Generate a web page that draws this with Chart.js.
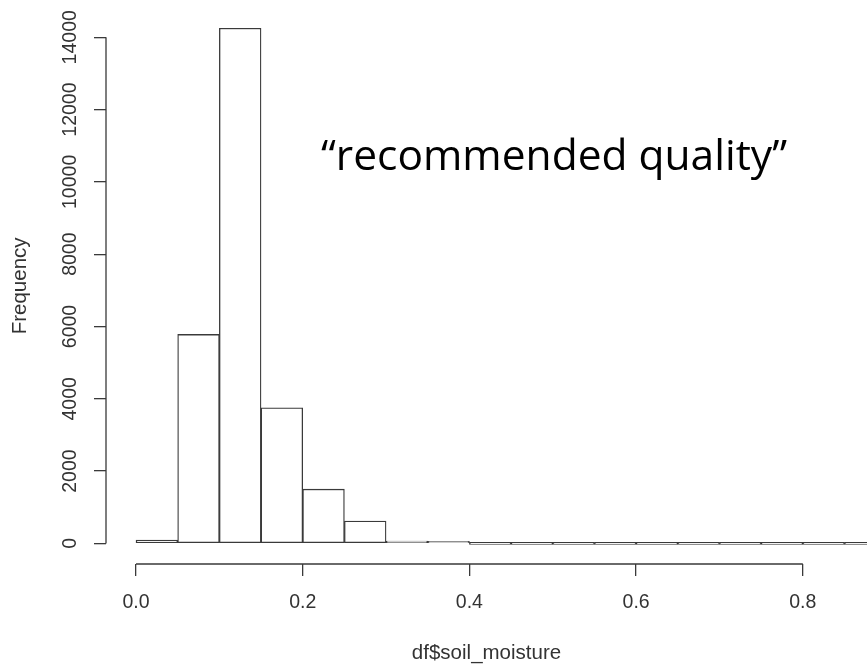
<!DOCTYPE html>
<html>
<head>
<meta charset="utf-8">
<script src="https://cdn.jsdelivr.net/npm/chart.js@4/dist/chart.umd.min.js"></script>
<style>
  html, body { margin: 0; padding: 0; background: #fff; overflow: hidden; }
</style>
</head>
<body>
<canvas id="histChart" width="867" height="664"></canvas>
<script>
const binStarts = [0.00, 0.05, 0.10, 0.15, 0.20, 0.25, 0.30, 0.35, 0.40,
                   0.45, 0.50, 0.55, 0.60, 0.65, 0.70, 0.75, 0.80, 0.85];
const binWidth = 0.05;
const counts = [90, 5780, 14250, 3750, 1500, 620, 65, 12, 0,
                0, 0, 0, 0, 0, 0, 0, 0, 0];
const xTicks = [0, 0.2, 0.4, 0.6, 0.8];
const yTicks = [0, 2000, 4000, 6000, 8000, 10000, 12000, 14000];
const xLabel = 'df$soil_moisture';
const yLabel = 'Frequency';
const note = '\u201Crecommended quality\u201D';

const ink = '#3a3a3a';
const textColor = '#333';
const tickFont = { family: '"Liberation Sans", Arial, sans-serif', size: 19.5 };
const titleFont = { family: '"Liberation Sans", Arial, sans-serif', size: 20.5 };

// R style axes: the line only runs from first to last tick
const rAxes = {
  id: 'rAxes',
  afterDraw(chart) {
    const { ctx, chartArea, scales: { x, y } } = chart;
    ctx.save();
    ctx.strokeStyle = ink;
    ctx.lineWidth = 1.3;
    ctx.beginPath();
    ctx.moveTo(x.getPixelForValue(xTicks[0]), chartArea.bottom);
    ctx.lineTo(x.getPixelForValue(xTicks[xTicks.length - 1]), chartArea.bottom);
    ctx.moveTo(chartArea.left, y.getPixelForValue(yTicks[0]));
    ctx.lineTo(chartArea.left, y.getPixelForValue(yTicks[yTicks.length - 1]));
    ctx.stroke();

    ctx.font = '42.5px "Open Sans", sans-serif';
    ctx.fillStyle = '#000';
    ctx.textBaseline = 'alphabetic';
    ctx.textAlign = 'left';
    ctx.fillText(note, x.getPixelForValue(0.222), y.getPixelForValue(10330));
    ctx.restore();
  }
};

const ctx = document.getElementById('histChart').getContext('2d');

new Chart(ctx, {
  type: 'bar',
  data: {
    datasets: [{
      data: binStarts.map((s, i) => ({ x: s + binWidth / 2, y: counts[i] })),
      backgroundColor: '#fff',
      borderColor: ink,
      borderWidth: 1.3,
      borderSkipped: false,
      barPercentage: 1,
      categoryPercentage: 1,
      minBarLength: 2
    }]
  },
  options: {
    responsive: false,
    animation: false,
    layout: { padding: { top: 6, right: 0, bottom: 0, left: 0 } },
    plugins: {
      legend: { display: false },
      tooltip: { enabled: false }
    },
    scales: {
      x: {
        type: 'linear',
        offset: false,
        min: -0.036,
        max: 0.877,
        afterBuildTicks: s => { s.ticks = xTicks.map(v => ({ value: v })); },
        afterFit: s => { s.height = 100; },
        border: { display: false },
        grid: { offset: false, drawOnChartArea: false, drawTicks: true, tickLength: 12, color: ink, lineWidth: 1.3 },
        ticks: {
          autoSkip: false,
          maxRotation: 0,
          padding: 15,
          color: textColor,
          font: tickFont,
          callback: v => v.toFixed(1)
        },
        title: { display: true, text: xLabel, color: textColor, font: titleFont, padding: { top: 0, bottom: -2 } }
      },
      y: {
        min: -570,
        max: 14818,
        afterBuildTicks: s => { s.ticks = yTicks.map(v => ({ value: v })); },
        afterFit: s => { s.width = 106; },
        border: { display: false },
        grid: { drawOnChartArea: false, drawTicks: true, tickLength: 12, color: ink, lineWidth: 1.3 },
        ticks: {
          minRotation: 90,
          maxRotation: 90,
          crossAlign: 'center',
          padding: -4,
          color: textColor,
          font: tickFont,
          callback: v => String(v)
        },
        title: { display: true, text: yLabel, color: textColor, font: titleFont, padding: { top: 8, bottom: 0 } }
      }
    }
  },
  plugins: [rAxes]
});
</script>
</body>
</html>
